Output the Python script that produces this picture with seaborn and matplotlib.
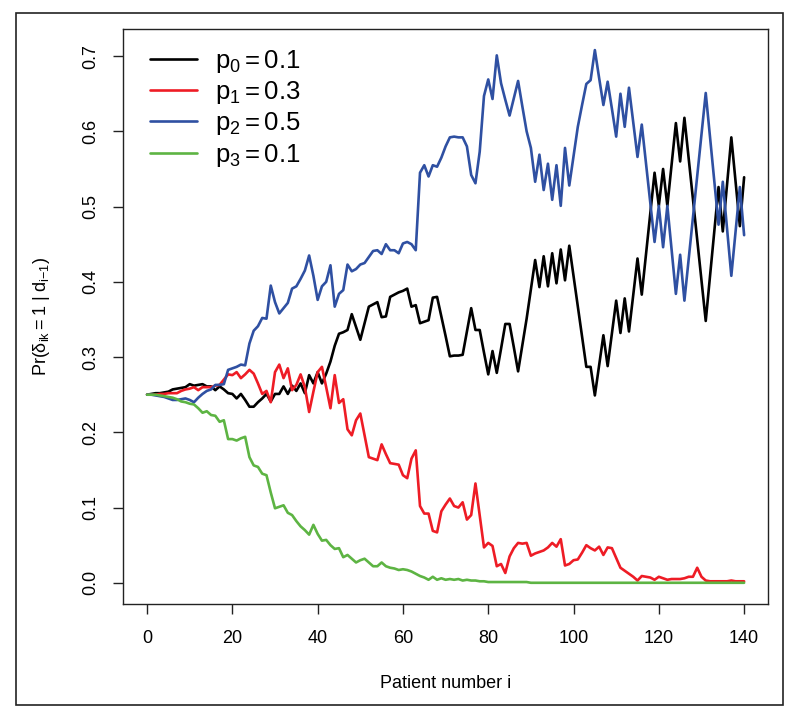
import numpy as np
import pandas as pd
import matplotlib
matplotlib.use('Agg')
import matplotlib.pyplot as plt
import seaborn as sns
from matplotlib.patches import Rectangle

# patient number i
patients = list(range(0, 141))

# posterior Pr(delta_ik = 1 | d_{i-1}) for each dose
p0_vals = [0.250, 0.251, 0.252, 0.252, 0.253, 0.254, 0.257, 0.258, 0.259, 0.260,
           0.264, 0.262, 0.263, 0.264, 0.261, 0.261, 0.256, 0.261, 0.257, 0.252,
           0.251, 0.245, 0.251, 0.243, 0.234, 0.234, 0.240, 0.245, 0.251, 0.241,
           0.251, 0.251, 0.261, 0.251, 0.262, 0.255, 0.265, 0.252, 0.276, 0.265,
           0.280, 0.265, 0.278, 0.294, 0.315, 0.331, 0.333, 0.336, 0.357, 0.340,
           0.323, 0.345, 0.367, 0.370, 0.373, 0.353, 0.354, 0.380, 0.383, 0.386,
           0.388, 0.391, 0.367, 0.369, 0.345, 0.347, 0.349, 0.379, 0.380, 0.354,
           0.328, 0.301, 0.302, 0.302, 0.303, 0.334, 0.365, 0.336, 0.336, 0.306,
           0.277, 0.308, 0.279, 0.311, 0.344, 0.344, 0.313, 0.281, 0.316, 0.351,
           0.390, 0.429, 0.393, 0.434, 0.394, 0.438, 0.398, 0.443, 0.402, 0.448,
           0.408, 0.368, 0.328, 0.287, 0.287, 0.249, 0.289, 0.329, 0.288, 0.331,
           0.375, 0.332, 0.378, 0.334, 0.383, 0.431, 0.383, 0.437, 0.491, 0.545,
           0.501, 0.550, 0.501, 0.556, 0.611, 0.560, 0.618, 0.564, 0.510, 0.456,
           0.402, 0.348, 0.407, 0.467, 0.526, 0.467, 0.530, 0.592, 0.533, 0.474,
           0.539]

p1_vals = [0.250, 0.250, 0.250, 0.251, 0.251, 0.252, 0.252, 0.252, 0.255, 0.257,
           0.258, 0.260, 0.256, 0.260, 0.260, 0.260, 0.262, 0.263, 0.270, 0.277,
           0.276, 0.280, 0.272, 0.277, 0.283, 0.278, 0.265, 0.251, 0.255, 0.240,
           0.280, 0.290, 0.272, 0.285, 0.256, 0.263, 0.277, 0.260, 0.227, 0.254,
           0.280, 0.287, 0.260, 0.232, 0.276, 0.239, 0.244, 0.204, 0.196, 0.216,
           0.225, 0.196, 0.167, 0.165, 0.163, 0.184, 0.171, 0.159, 0.158, 0.157,
           0.143, 0.139, 0.165, 0.176, 0.102, 0.092, 0.092, 0.069, 0.067, 0.095,
           0.104, 0.112, 0.102, 0.100, 0.107, 0.084, 0.090, 0.132, 0.090, 0.047,
           0.053, 0.049, 0.022, 0.025, 0.013, 0.035, 0.046, 0.053, 0.052, 0.053,
           0.036, 0.039, 0.041, 0.043, 0.047, 0.053, 0.048, 0.058, 0.023, 0.025,
           0.030, 0.031, 0.040, 0.050, 0.046, 0.043, 0.048, 0.037, 0.047, 0.046,
           0.033, 0.020, 0.016, 0.012, 0.008, 0.003, 0.009, 0.008, 0.007, 0.004,
           0.008, 0.006, 0.004, 0.005, 0.005, 0.005, 0.006, 0.008, 0.008, 0.020,
           0.008, 0.003, 0.002, 0.002, 0.002, 0.002, 0.002, 0.003, 0.002, 0.002,
           0.002]

p2_vals = [0.250, 0.250, 0.249, 0.248, 0.247, 0.245, 0.243, 0.243, 0.244, 0.245,
           0.243, 0.240, 0.246, 0.251, 0.255, 0.257, 0.263, 0.263, 0.264, 0.283,
           0.285, 0.287, 0.290, 0.289, 0.318, 0.335, 0.341, 0.352, 0.351, 0.395,
           0.373, 0.358, 0.365, 0.372, 0.391, 0.394, 0.404, 0.415, 0.435, 0.408,
           0.376, 0.394, 0.400, 0.422, 0.367, 0.384, 0.389, 0.423, 0.414, 0.417,
           0.423, 0.425, 0.433, 0.441, 0.442, 0.437, 0.450, 0.442, 0.442, 0.438,
           0.451, 0.453, 0.450, 0.442, 0.545, 0.555, 0.540, 0.555, 0.553, 0.565,
           0.580, 0.592, 0.593, 0.592, 0.592, 0.580, 0.542, 0.531, 0.573, 0.647,
           0.669, 0.643, 0.701, 0.664, 0.642, 0.621, 0.644, 0.667, 0.633, 0.600,
           0.578, 0.533, 0.569, 0.522, 0.557, 0.509, 0.555, 0.501, 0.578, 0.528,
           0.567, 0.606, 0.635, 0.663, 0.668, 0.708, 0.671, 0.635, 0.666, 0.630,
           0.593, 0.650, 0.606, 0.658, 0.612, 0.566, 0.609, 0.557, 0.505, 0.453,
           0.501, 0.446, 0.501, 0.442, 0.384, 0.436, 0.375, 0.430, 0.485, 0.540,
           0.596, 0.651, 0.593, 0.534, 0.476, 0.533, 0.470, 0.408, 0.467, 0.526,
           0.462]

p3_vals = [0.250, 0.250, 0.250, 0.249, 0.248, 0.247, 0.246, 0.244, 0.241, 0.240,
           0.238, 0.237, 0.232, 0.226, 0.228, 0.223, 0.222, 0.214, 0.216, 0.191,
           0.191, 0.189, 0.192, 0.194, 0.167, 0.156, 0.154, 0.145, 0.143, 0.120,
           0.099, 0.101, 0.103, 0.093, 0.090, 0.082, 0.075, 0.070, 0.064, 0.077,
           0.065, 0.056, 0.057, 0.050, 0.045, 0.046, 0.034, 0.037, 0.032, 0.027,
           0.030, 0.032, 0.027, 0.022, 0.022, 0.027, 0.022, 0.020, 0.019, 0.017,
           0.018, 0.017, 0.015, 0.012, 0.009, 0.007, 0.004, 0.008, 0.004, 0.006,
           0.004, 0.005, 0.004, 0.005, 0.003, 0.004, 0.003, 0.003, 0.002, 0.002,
           0.001, 0.001, 0.001, 0.001, 0.001, 0.001, 0.001, 0.001, 0.001, 0.001,
           0.000, 0.000, 0.000, 0.000, 0.000, 0.000, 0.000, 0.000, 0.000, 0.000,
           0.000, 0.000, 0.000, 0.000, 0.000, 0.000, 0.000, 0.000, 0.000, 0.000,
           0.000, 0.000, 0.000, 0.000, 0.000, 0.000, 0.000, 0.000, 0.000, 0.000,
           0.000, 0.000, 0.000, 0.000, 0.000, 0.000, 0.000, 0.000, 0.000, 0.000,
           0.000, 0.000, 0.000, 0.000, 0.000, 0.000, 0.000, 0.000, 0.000, 0.000,
           0.000]

labels = [r'$\mathregular{p_0 = 0.1}$', r'$\mathregular{p_1 = 0.3}$',
          r'$\mathregular{p_2 = 0.5}$', r'$\mathregular{p_3 = 0.1}$']
colors = ['#000000', '#EE1C25', '#2F50A2', '#5DB443']

sns.set_theme(style='white')
plt.rcParams['font.family'] = ['Liberation Sans', 'DejaVu Sans']
plt.rcParams['mathtext.fontset'] = 'custom'
plt.rcParams['mathtext.rm'] = 'Liberation Sans'
plt.rcParams['mathtext.it'] = 'Liberation Sans'
plt.rcParams['mathtext.sf'] = 'Liberation Sans'
plt.rcParams['text.color'] = 'black'
plt.rcParams['axes.labelcolor'] = 'black'
plt.rcParams['xtick.color'] = 'black'
plt.rcParams['ytick.color'] = 'black'

fig = plt.figure(figsize=(8, 7.2), dpi=100)
ax = fig.add_axes([0.154, 0.161, 0.806, 0.799])

for vals, lab, col in zip([p0_vals, p1_vals, p2_vals, p3_vals], labels, colors):
    sns.lineplot(x=patients, y=vals, ax=ax, color=col, lw=1.9, label=lab)

ax.set_xlim(-5.6, 145.6)
ax.set_ylim(-0.0283, 0.7363)
ax.set_xticks([0, 20, 40, 60, 80, 100, 120, 140])
ax.set_yticks([0.0, 0.1, 0.2, 0.3, 0.4, 0.5, 0.6, 0.7])
ax.set_yticklabels(['0.0', '0.1', '0.2', '0.3', '0.4', '0.5', '0.6', '0.7'],
                   rotation=90, va='center')
ax.tick_params(axis='both', direction='out', length=7, width=1, color='#222222',
               labelsize=13, left=True, bottom=True)
ax.tick_params(axis='x', pad=12)
ax.tick_params(axis='y', pad=10)
for s in ax.spines.values():
    s.set_visible(True)
    s.set_color('#222222')
    s.set_linewidth(1)

ax.set_xlabel('Patient number i', fontsize=13, labelpad=20)
ax.set_ylabel(r'Pr($\delta_{ik} = 1\ |\ d_{i\mathregular{-}1}$)', fontsize=13, labelpad=22)

leg = ax.legend(loc='upper left', frameon=False, fontsize=18.5, handlelength=1.85,
                handletextpad=0.7, labelspacing=0.17, borderaxespad=0.0,
                bbox_to_anchor=(0.025, 0.985))
for line in leg.get_lines():
    line.set_linewidth(1.9)

# outer frame around the whole figure
fig.patches.append(Rectangle((0.02, 0.021), 0.959, 0.961, transform=fig.transFigure,
                             fill=False, edgecolor='#222222', lw=1.2))

fig.savefig('out.png', dpi=100)
